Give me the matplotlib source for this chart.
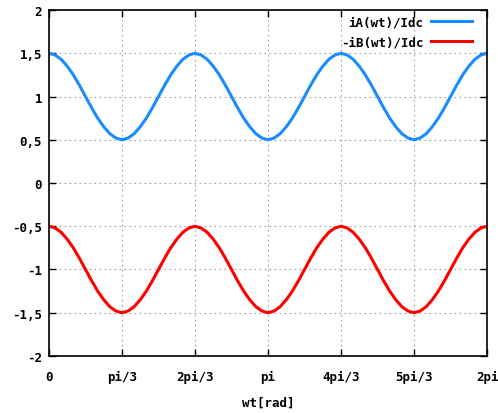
import numpy as np
import matplotlib
matplotlib.use("Agg")
from matplotlib import pyplot as plt

# values every pi/36 rad
ia_idc = [1.5, 1.48, 1.43, 1.35, 1.25, 1.13, 1.0, 0.87, 0.75, 0.65, 0.57, 0.52,
          0.5, 0.52, 0.57, 0.65, 0.75, 0.87, 1.0, 1.13, 1.25, 1.35, 1.43, 1.48,
          1.5, 1.48, 1.43, 1.35, 1.25, 1.13, 1.0, 0.87, 0.75, 0.65, 0.57, 0.52,
          0.5, 0.52, 0.57, 0.65, 0.75, 0.87, 1.0, 1.13, 1.25, 1.35, 1.43, 1.48,
          1.5, 1.48, 1.43, 1.35, 1.25, 1.13, 1.0, 0.87, 0.75, 0.65, 0.57, 0.52,
          0.5, 0.52, 0.57, 0.65, 0.75, 0.87, 1.0, 1.13, 1.25, 1.35, 1.43, 1.48,
          1.5]
neg_ib_idc = [-0.5, -0.52, -0.57, -0.65, -0.75, -0.87, -1.0, -1.13, -1.25, -1.35, -1.43, -1.48,
              -1.5, -1.48, -1.43, -1.35, -1.25, -1.13, -1.0, -0.87, -0.75, -0.65, -0.57, -0.52,
              -0.5, -0.52, -0.57, -0.65, -0.75, -0.87, -1.0, -1.13, -1.25, -1.35, -1.43, -1.48,
              -1.5, -1.48, -1.43, -1.35, -1.25, -1.13, -1.0, -0.87, -0.75, -0.65, -0.57, -0.52,
              -0.5, -0.52, -0.57, -0.65, -0.75, -0.87, -1.0, -1.13, -1.25, -1.35, -1.43, -1.48,
              -1.5, -1.48, -1.43, -1.35, -1.25, -1.13, -1.0, -0.87, -0.75, -0.65, -0.57, -0.52,
              -0.5]
wt = np.linspace(0, 2 * np.pi, len(ia_idc))

xtick_labels = ['0', 'pi/3', '2pi/3', 'pi', '4pi/3', '5pi/3', '2pi']
ytick_labels = ['-2', '-1,5', '-1', '-0,5', '0', '0,5', '1', '1,5', '2']
ytick_values = [-2, -1.5, -1, -0.5, 0, 0.5, 1, 1.5, 2]

font = {'family': 'DejaVu Sans Mono', 'weight': 'bold', 'size': 9}

fig = plt.figure(figsize=(4.98, 4.14), dpi=100)
ax = fig.add_axes([0.0984, 0.1377, 0.8796, 0.8357])

ax.plot(wt, ia_idc, color='#1a8cff', lw=2.2, label='iA(wt)/Idc')
ax.plot(wt, neg_ib_idc, color='#ff0000', lw=2.2, label='-iB(wt)/Idc')

ax.set_xlim(0, 2 * np.pi)
ax.set_ylim(-2, 2)
ax.set_xticks(np.arange(len(xtick_labels)) * np.pi / 3)
ax.set_xticklabels(xtick_labels, fontdict=font)
ax.set_yticks(ytick_values)
ax.set_yticklabels(ytick_labels, fontdict=font)
ax.tick_params(direction='in', length=5, width=1, top=True, right=True, pad=5)
ax.tick_params(axis='x', pad=10)
ax.grid(True, color='#a0a0a0', linestyle=(0, (1.5, 3)), lw=0.8)
for s in ax.spines.values():
    s.set_linewidth(1.2)

ax.set_xlabel('wt[rad]', fontdict=font, labelpad=9)

leg = ax.legend(loc='upper right', bbox_to_anchor=(0.986, 1.009), frameon=False, markerfirst=False,
                prop={'family': 'DejaVu Sans Mono', 'weight': 'bold', 'size': 9},
                handlelength=3.3, borderaxespad=0.3, labelspacing=0.55, handletextpad=0.6)
for t in leg.get_texts():
    t.set_ha('right')

fig.savefig('out.png', dpi=100)
